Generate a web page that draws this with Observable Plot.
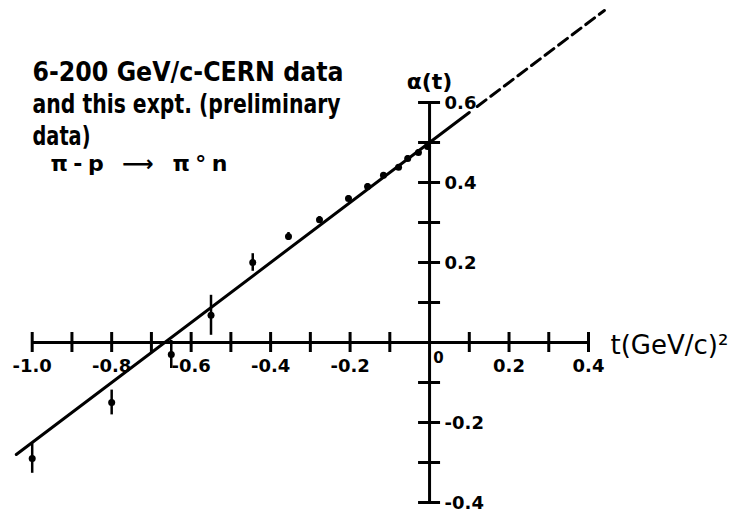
<!DOCTYPE html>
<html>
<head>
<meta charset="utf-8">
<script src="https://cdn.jsdelivr.net/npm/d3@7"></script>
<script src="https://cdn.jsdelivr.net/npm/@observablehq/plot@0.6"></script>
<style>
  body { margin: 0; background: #fff; }
  #chart svg { display: block; }
</style>
</head>
<body>
<div id="chart"></div>
<script>
// Regge trajectory alpha(t) for pi- p -> pi0 n
const tValues     = [-1.0, -0.8, -0.65, -0.55, -0.445, -0.355, -0.277, -0.204, -0.156, -0.116, -0.078, -0.055, -0.028, -0.005];
const alphaValues = [-0.29, -0.15, -0.03, 0.068, 0.2, 0.265, 0.307, 0.36, 0.39, 0.418, 0.438, 0.46, 0.475, 0.49];
const alphaErrors = [0.037, 0.031, 0.035, 0.05, 0.022, 0.01, 0.008, 0.007, 0.007, 0.007, 0.007, 0.007, 0.007, 0.007];

// straight-line fit: solid over the data, dashed extrapolation to t > 0
const fitSolidT      = [-1.04, 0.1];
const fitSolidAlpha  = [-0.28, 0.575];
const fitDashedT     = [0.12, 0.44];
const fitDashedAlpha = [0.59, 0.83];

const xDomain = [-1.0, 0.4];
const yDomain = [-0.4, 0.6];
const xTicks = [-1.0, -0.9, -0.8, -0.7, -0.6, -0.5, -0.4, -0.3, -0.2, -0.1, 0.1, 0.2, 0.3, 0.4];
const xTickLabels = ["-1.0", "-0.8", "-0.6", "-0.4", "-0.2", "0.2", "0.4"];
const yTicks = [-0.4, -0.3, -0.2, -0.1, 0.1, 0.2, 0.3, 0.4, 0.5, 0.6];
const yTickLabels = ["-0.4", "-0.2", "0.2", "0.4", "0.6"];

const noteLines = ["6-200 GeV/c-CERN data", "and this expt. (preliminary", "data)"];
const noteWidths = [311, 308, 58];
const reaction = "π-p ⟶ π°n";
const xLabel = "t(GeV/c)²";
const yLabel = "α(t)";

const points = tValues.map((t, i) => ({
  t,
  a: alphaValues[i],
  lo: alphaValues[i] - alphaErrors[i],
  hi: alphaValues[i] + alphaErrors[i]
}));
const fitSolid = fitSolidT.map((t, i) => ({t, a: fitSolidAlpha[i]}));
const fitDashed = fitDashedT.map((t, i) => ({t, a: fitDashedAlpha[i]}));

const font = "DejaVu Sans";

const chart = Plot.plot({
  width: 743,
  height: 512,
  margin: 0,
  style: {background: "#fff", color: "#000", fontFamily: font},
  x: {domain: xDomain, range: [31.7, 588], axis: null},
  y: {domain: yDomain, range: [502, 102], axis: null},
  marks: [
    // axes crossing at the origin
    Plot.ruleY([0], {x1: xDomain[0], x2: xDomain[1], stroke: "#000", strokeWidth: 3}),
    Plot.ruleX([0], {y1: yDomain[0], y2: yDomain[1], stroke: "#000", strokeWidth: 3}),
    // tick marks straddling each axis
    Plot.ruleX(xTicks, {x: d => d, y1: 0, y2: 0, insetTop: -10, insetBottom: -10, stroke: "#000", strokeWidth: 3}),
    Plot.ruleY(yTicks, {y: d => d, x1: 0, x2: 0, insetLeft: -11, insetRight: -11, stroke: "#000", strokeWidth: 3}),
    // tick labels
    Plot.text(xTickLabels, {x: d => +d, y: 0, text: d => d, dy: 24, fontSize: 18, fontWeight: "bold"}),
    Plot.text(["0"], {x: 0, y: 0, text: d => d, dx: 9, dy: 16, fontSize: 15, fontWeight: "bold"}),
    Plot.text(yTickLabels, {x: 0, y: d => +d, text: d => d, dx: 15, dy: 1, textAnchor: "start", fontSize: 18, fontWeight: "bold"}),
    // axis titles
    Plot.text([yLabel], {x: 0, y: yDomain[1], text: d => d, dy: -21, fontSize: 22, fontWeight: "bold"}),
    Plot.text([xLabel], {x: xDomain[1], y: 0, text: d => d, dx: 22, dy: 3, textAnchor: "start", fontSize: 26}),
    // fitted trajectory
    Plot.line(fitSolid, {x: "t", y: "a", stroke: "#000", strokeWidth: 3}),
    Plot.line(fitDashed, {x: "t", y: "a", stroke: "#000", strokeWidth: 3, strokeDasharray: "11,6"}),
    // measurements with error bars
    Plot.ruleX(points, {x: "t", y1: "lo", y2: "hi", stroke: "#000", strokeWidth: 2.5}),
    Plot.dot(points, {x: "t", y: "a", r: 3.5, fill: "#000", stroke: null}),
    // annotation block
    ...noteLines.map((line, i) => Plot.text([line], {
      frameAnchor: "top-left", text: d => d, dx: 32, dy: 72 + 32 * i,
      textAnchor: "start", lineAnchor: "middle", fontSize: 26, fontWeight: "bold",
      className: "note-line-" + i
    })),
    Plot.text([reaction], {
      frameAnchor: "top-left", text: d => d, dx: 50, dy: 163,
      textAnchor: "start", lineAnchor: "middle", fontSize: 22, fontWeight: "bold",
      className: "reaction-line"
    })
  ]
});

document.getElementById("chart").appendChild(chart);

// fit the lettering of the annotation block to its column width
noteLines.forEach((_, i) => {
  chart.querySelectorAll(".note-line-" + i + " text").forEach(el => {
    el.setAttribute("textLength", noteWidths[i]);
    el.setAttribute("lengthAdjust", "spacingAndGlyphs");
  });
});
chart.querySelectorAll(".reaction-line text").forEach(el => {
  el.setAttribute("textLength", 177);
  el.setAttribute("lengthAdjust", "spacing");
});
</script>
</body>
</html>
